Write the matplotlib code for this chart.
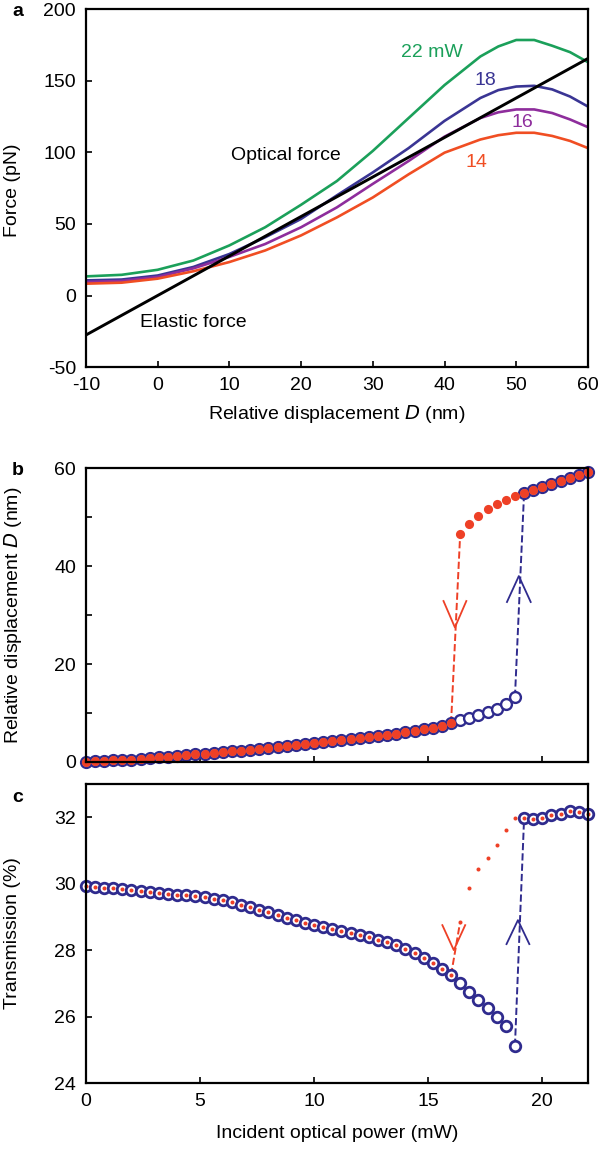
import numpy as np
import matplotlib
matplotlib.use('Agg')
import matplotlib.pyplot as plt

plt.rcParams['font.family'] = ['Liberation Sans', 'DejaVu Sans']
plt.rcParams['font.size'] = 14
plt.rcParams['axes.unicode_minus'] = False

# --- panel a : force vs displacement
disp = [-10, -5, 0, 5, 10, 15, 20, 25, 30, 35, 40, 45, 47.5, 50, 52.5, 55, 57.5, 60]
f22 = [13.4, 14.5, 18, 24.5, 35, 47.7, 63.4, 80, 101, 124, 147, 167, 174, 178.5, 178.5, 174.5, 170, 163]
f18 = [10.6, 11.2, 14, 20, 29, 40.7, 53.5, 70, 86, 103, 122, 138, 143.5, 146, 146.5, 144, 139, 132]
f16 = [9.5, 10.2, 13, 19, 27, 36, 47.7, 61.6, 78, 94, 111, 124, 128, 130, 130, 127.5, 123, 117.6]
f14 = [8.3, 9, 11.8, 17, 23.4, 31.5, 42, 54.6, 68.5, 84.7, 99.8, 109, 112, 113.7, 113.7, 111.5, 108, 103]
elastic_d = [-10, 60]
elastic_f = [-27.6, 165.6]

# --- panels b and c : sweep of incident power
power = np.round(np.arange(0, 22.01, 0.4), 1)

# lower branch, 0 .. 18.8 mW
d_low = [0.0, 0.1, 0.2, 0.3, 0.4, 0.5, 0.65, 0.8, 0.95, 1.1, 1.25, 1.4, 1.55, 1.7, 1.85, 2.0,
         2.15, 2.3, 2.5, 2.65, 2.9, 3.05, 3.2, 3.4, 3.6, 3.8, 4.0, 4.2, 4.4, 4.6, 4.85, 5.1,
         5.3, 5.55, 5.8, 6.1, 6.4, 6.7, 7.0, 7.4, 7.9, 8.5, 9.0, 9.6, 10.2, 10.9, 11.8, 13.3]
t_low = [29.93, 29.91, 29.88, 29.86, 29.83, 29.80, 29.78, 29.75, 29.73, 29.70, 29.67, 29.65,
         29.62, 29.59, 29.55, 29.50, 29.44, 29.37, 29.30, 29.22, 29.14, 29.06, 28.98, 28.90,
         28.82, 28.75, 28.68, 28.62, 28.56, 28.50, 28.44, 28.38, 28.31, 28.24, 28.15, 28.02,
         27.90, 27.75, 27.60, 27.43, 27.25, 27.00, 26.75, 26.50, 26.25, 26.00, 25.72, 25.12]
# upper branch, 19.2 .. 22 mW
d_high = [55.0, 55.6, 56.3, 56.9, 57.5, 58.0, 58.6, 59.3]
t_high = [31.96, 31.93, 31.97, 32.05, 32.10, 32.17, 32.15, 32.10]
# decreasing sweep stays high down to 16.4 mW
d_down_high = [46.5, 48.7, 50.3, 51.7, 52.7, 53.5, 54.4]
t_down_high = [28.85, 29.86, 30.43, 30.76, 31.16, 31.60, 31.96]

d_up = np.array(d_low + d_high)
t_up = np.array(t_low + t_high)
d_down = np.array(d_low[:41] + d_down_high + d_high)
t_down = np.array(t_low[:41] + t_down_high + t_high)

blue = '#2f2b8e'
red = '#ee4026'

fig = plt.figure(figsize=(6, 11.51), dpi=100)
ax1 = fig.add_axes([0.143, 0.681, 0.837, 0.311])
ax2 = fig.add_axes([0.143, 0.338, 0.837, 0.255])
ax3 = fig.add_axes([0.143, 0.059, 0.837, 0.260])

for ax in (ax1, ax2, ax3):
    for s in ax.spines.values():
        s.set_linewidth(1.6)
    ax.tick_params(direction='in', length=4, width=1.2, labelsize=14, pad=7)

# a
ax1.plot(disp, f22, color='#1ba05a', lw=1.9)
ax1.plot(disp, f18, color='#3a3594', lw=1.9)
ax1.plot(disp, f16, color='#8e2d9c', lw=1.9)
ax1.plot(disp, f14, color='#f04e23', lw=1.9)
ax1.plot(elastic_d, elastic_f, color='black', lw=2.1)
ax1.set_xlim(-10, 60)
ax1.set_ylim(-50, 200)
ax1.set_xticks(range(-10, 61, 10))
ax1.set_yticks(range(-50, 201, 50))
ax1.text(38.3, 169.6, '22 mW', color='#1ba05a', ha='center', va='center')
ax1.text(45.7, 150, '18', color='#3a3594', ha='center', va='center')
ax1.text(50.8, 121, '16', color='#8e2d9c', ha='center', va='center')
ax1.text(44.5, 93, '14', color='#f04e23', ha='center', va='center')
ax1.text(17.9, 97.7, 'Optical force', ha='center', va='center')
ax1.text(5.0, -19, 'Elastic force', ha='center', va='center')
ax1.set_xlabel('Relative displacement $\\it{D}$ (nm)', fontsize=14)
ax1.xaxis.set_label_coords(0.5, -0.1)


def v_arrow(ax, x, y, dx, dy, color):
    # open V arrow head, tip at (x, y)
    ax.plot([x - dx, x, x + dx], [y + dy, y, y + dy], color=color, lw=1.3)


# b
ax2.plot(power[40:42], d_down[40:42], '--', color=red, lw=1.4)
ax2.plot(power[47:49], d_up[47:49], '--', color=blue, lw=1.4)
v_arrow(ax2, 16.17, 27.5, 0.5, 5.4, red)
v_arrow(ax2, 18.97, 38.0, 0.52, -5.3, blue)
ax2.plot(power, d_up, 'o', ms=7.8, mfc='white', mec=blue, mew=1.7, clip_on=False)
ax2.plot(power, d_down, 'o', ms=6.6, mfc=red, mec='none', clip_on=False)
ax2.set_xlim(0, 22)
ax2.set_ylim(0, 60)
ax2.set_xticks(range(0, 21, 5))
ax2.set_xticklabels([])
ax2.set_yticks(range(0, 61, 10))
ax2.set_yticklabels(['0', '', '20', '', '40', '', '60'])

# c
ax3.plot(power[40:42], t_down[40:42], '--', color=red, lw=1.4)
ax3.plot(power[47:49], t_up[47:49], '--', color=blue, lw=1.4)
v_arrow(ax3, 16.12, 28.0, 0.5, 0.75, red)
v_arrow(ax3, 18.93, 28.9, 0.5, -0.72, blue)
ax3.plot(power, t_up, 'o', ms=7.6, mfc='white', mec=blue, mew=2.0, clip_on=False)
ax3.plot(power, t_down, 'o', ms=2.9, mfc=red, mec='none', clip_on=False)
ax3.set_xlim(0, 22)
ax3.set_ylim(24, 33)
ax3.set_xticks(range(0, 21, 5))
ax3.set_yticks(range(24, 33, 2))
ax3.set_xlabel('Incident optical power (mW)', fontsize=14)
ax3.xaxis.set_label_coords(0.5, -0.14)

fig.text(13 / 600, 1 - 190 / 1151, 'Force (pN)', rotation=90, ha='center', va='center')
fig.text(13 / 600, 1 - 615 / 1151, 'Relative displacement $\\it{D}$ (nm)', rotation=90,
         ha='center', va='center')
fig.text(13 / 600, 1 - 933 / 1151, 'Transmission (%)', rotation=90, ha='center', va='center')

fig.text(0.02, 1 - 12 / 1151, 'a', weight='bold', fontsize=14, va='center')
fig.text(0.02, 1 - 470 / 1151, 'b', weight='bold', fontsize=14, va='center')
fig.text(0.02, 1 - 797 / 1151, 'c', weight='bold', fontsize=14, va='center')

fig.savefig('out.png', dpi=100)
